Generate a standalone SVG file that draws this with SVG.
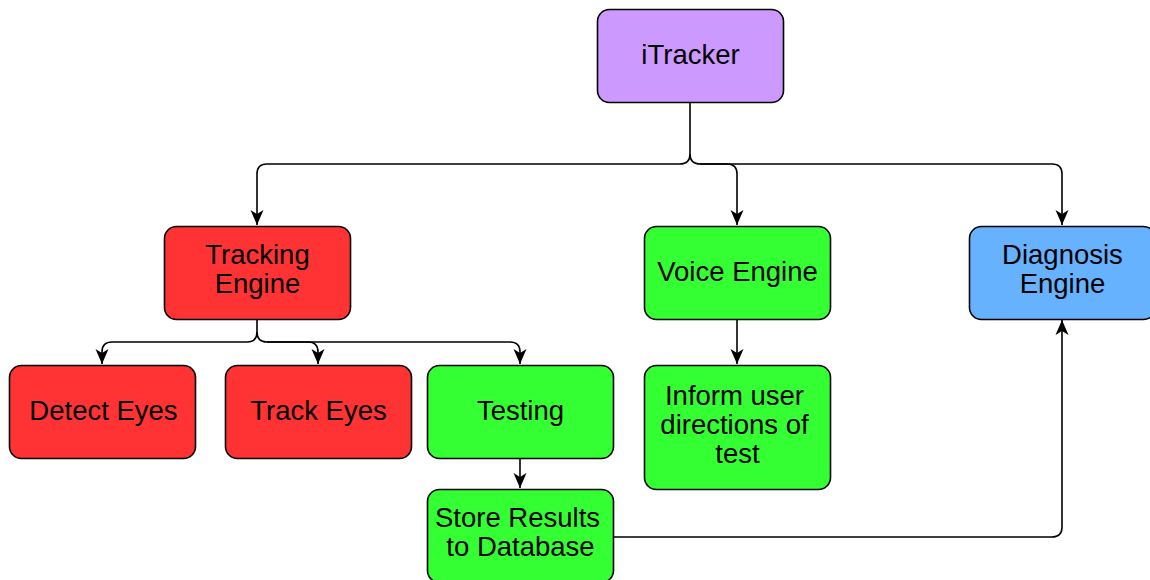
<svg xmlns="http://www.w3.org/2000/svg" width="1150" height="580" viewBox="0 0 1150 580">
<defs>
<style>
.box{stroke:#000;stroke-width:1.6}
.t{font-family:"Liberation Sans",Arial,sans-serif;font-size:27.5px;fill:#000;text-anchor:middle}
.c{fill:none;stroke:#000;stroke-width:1.6}
.purple{fill:#CC99FF}.red{fill:#FF3333}.green{fill:#33FF33}.blue{fill:#66B2FF}
</style>
<marker id="ah" markerUnits="userSpaceOnUse" markerWidth="16" markerHeight="16" viewBox="0 0 16 16" refX="15" refY="8" orient="auto">
<path d="M0,1.5 L15,8 L0,14.5 L4,8 Z" fill="#000"/>
</marker>
</defs>
<rect width="1150" height="580" fill="#fff"/>
<g id="connectors">
<path class="c" d="M690,102 V154 Q690,164 680,164 H267 Q257,164 257,174 V225" marker-end="url(#ah)"/>
<path class="c" d="M690,154 Q690,164 700,164 H727 Q737,164 737,174 V225" marker-end="url(#ah)"/>
<path class="c" d="M700,164 H1052 Q1062,164 1062,174 V225" marker-end="url(#ah)"/>
<path class="c" d="M257,319 V332 Q257,342 247,342 H112 Q102,342 102,352 V364" marker-end="url(#ah)"/>
<path class="c" d="M257,332 Q257,342 267,342 H308 Q318,342 318,352 V364" marker-end="url(#ah)"/>
<path class="c" d="M267,342 H510 Q520,342 520,352 V364" marker-end="url(#ah)"/>
<path class="c" d="M520,458 V488" marker-end="url(#ah)"/>
<path class="c" d="M737,319 V364" marker-end="url(#ah)"/>
<path class="c" d="M613,537 H1052 Q1062,537 1062,527 V320" marker-end="url(#ah)"/>
</g>
<g id="itracker"><rect class="box purple" x="597.500" y="9.500" width="186" height="93" rx="12"/><text class="t" x="690.500" y="64">iTracker</text></g>
<g id="tracking-engine"><rect class="box red" x="164.500" y="226.500" width="186" height="93" rx="12"/><text class="t" x="257.500" y="264">Tracking</text><text class="t" x="257.500" y="293">Engine</text></g>
<g id="voice-engine"><rect class="box green" x="644.500" y="226.500" width="186" height="93" rx="12"/><text class="t" x="737.500" y="281">Voice Engine</text></g>
<g id="diagnosis-engine"><rect class="box blue" x="969.500" y="226.500" width="186" height="93" rx="12"/><text class="t" x="1062.500" y="264">Diagnosis</text><text class="t" x="1062.500" y="293">Engine</text></g>
<g id="detect-eyes"><rect class="box red" x="9.500" y="365.500" width="186" height="93" rx="12"/><text class="t" x="103.500" y="420">Detect Eyes</text></g>
<g id="track-eyes"><rect class="box red" x="225.500" y="365.500" width="186" height="93" rx="12"/><text class="t" x="318.500" y="420">Track Eyes</text></g>
<g id="testing"><rect class="box green" x="427.500" y="365.500" width="186" height="93" rx="12"/><text class="t" x="520.500" y="420">Testing</text></g>
<g id="store-results"><rect class="box green" x="427.500" y="489.500" width="186" height="93" rx="12"/><text class="t" x="517.500" y="527">Store Results</text><text class="t" x="520.500" y="556">to Database</text></g>
<g id="inform-user"><rect class="box green" x="644.500" y="365.500" width="186" height="124" rx="12"/><text class="t" x="734.500" y="405">Inform user</text><text class="t" x="734.500" y="434">directions of</text><text class="t" x="737.500" y="463">test</text></g>
</svg>
